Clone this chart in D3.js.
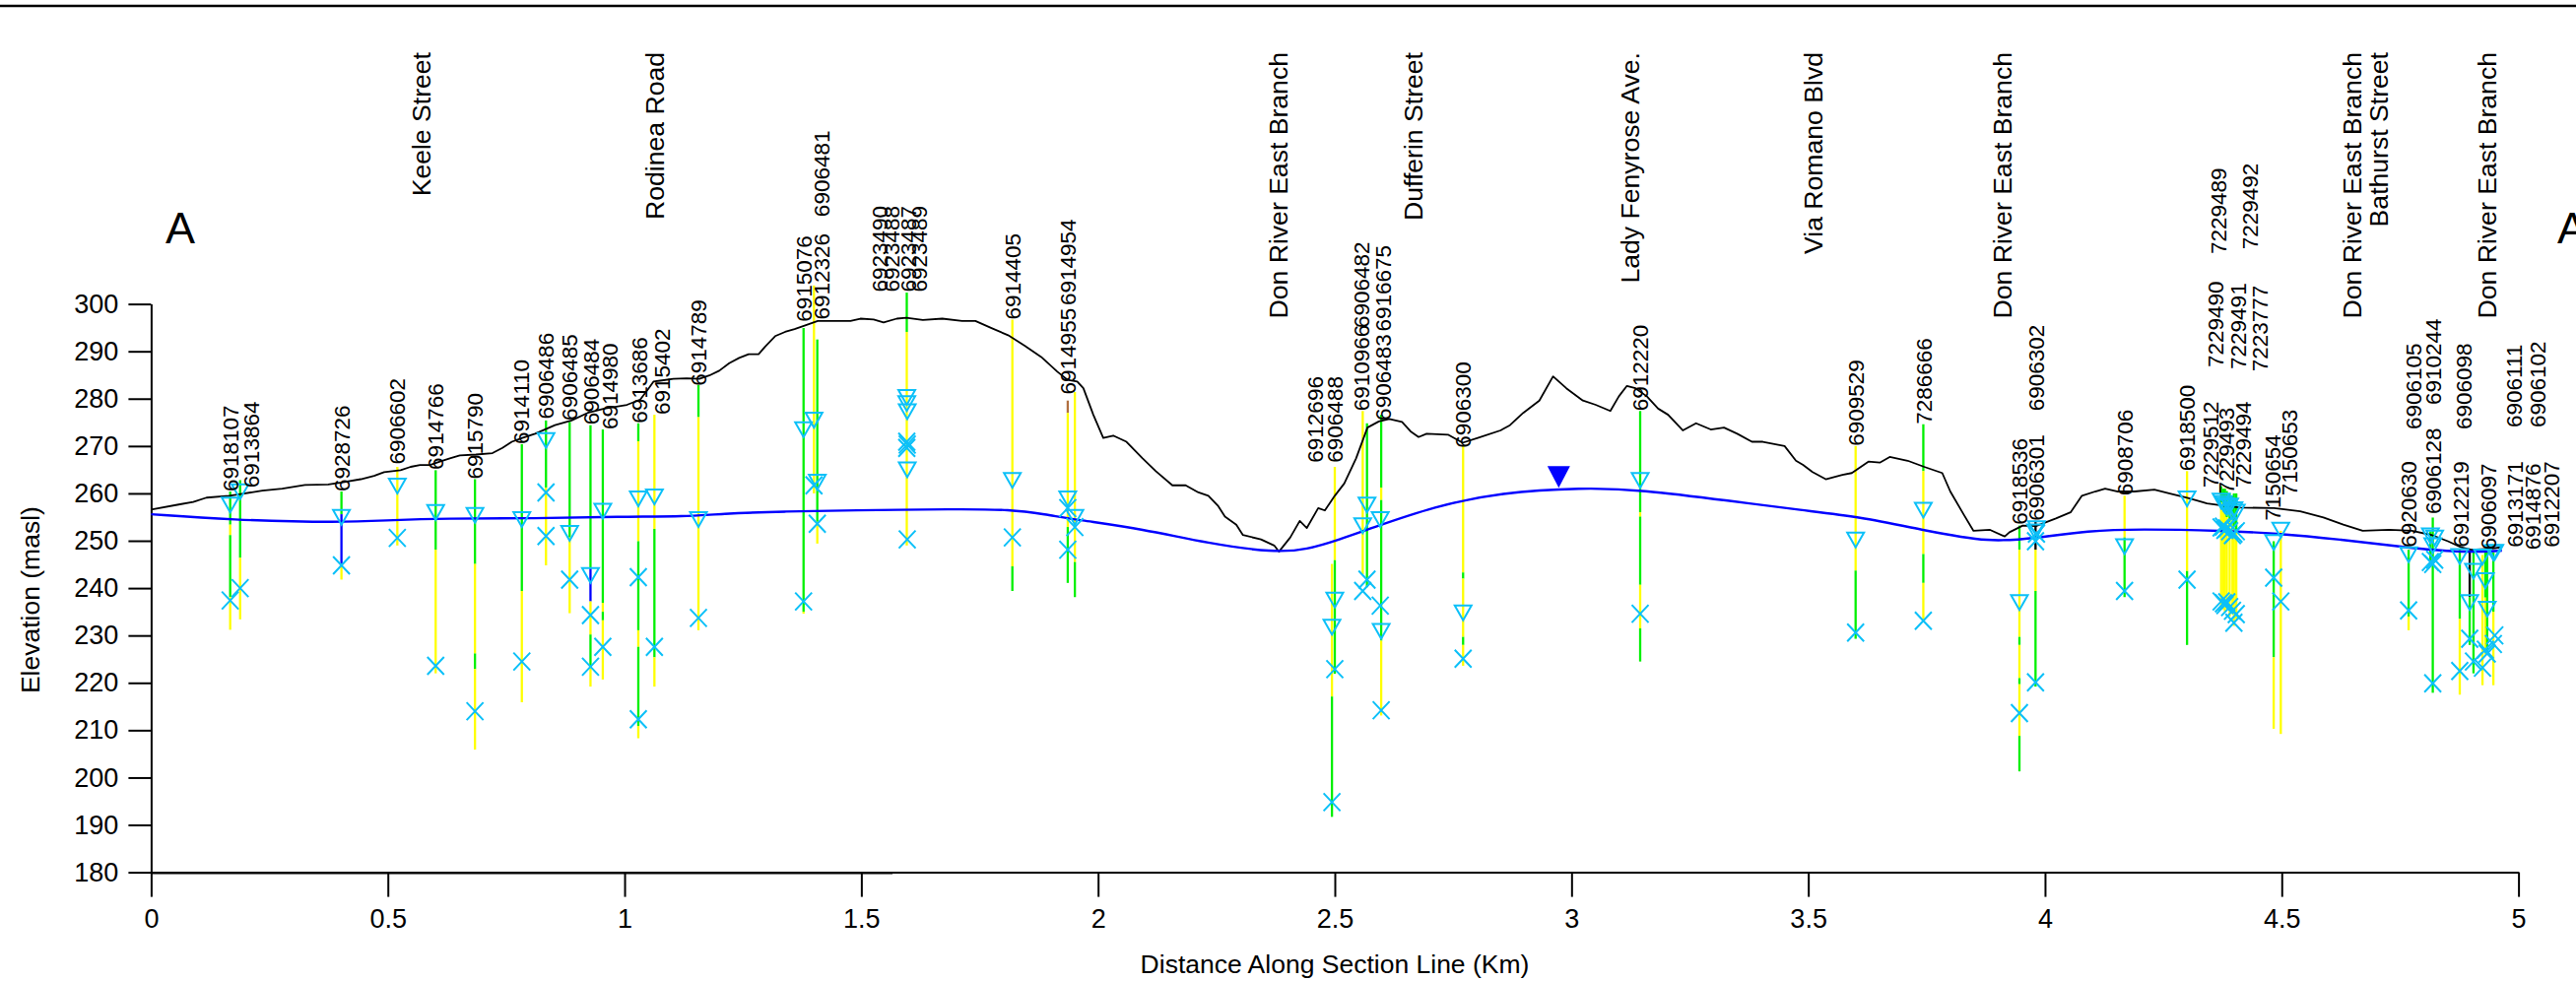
<!DOCTYPE html>
<html><head><meta charset="utf-8">
<script src="https://cdn.jsdelivr.net/npm/d3@7"></script>
<style>
body{margin:0;background:#fff}
svg{display:block}
text{font-family:"Liberation Sans",Arial,Helvetica,sans-serif;fill:#000}
</style>
</head><body>
<svg id="chart" width="2615" height="996"></svg>
<script>
// ---------------- DATA ----------------
const xTicks = [0, 0.5, 1, 1.5, 2, 2.5, 3, 3.5, 4, 4.5, 5];
const yTicks = [180, 190, 200, 210, 220, 230, 240, 250, 260, 270, 280, 290, 300];

// ground surface profile [km, masl]
const groundProfile = [
 [0,256.6],[0.061,257.7],[0.089,258.2],[0.117,259.1],[0.165,259.5],[0.186,259.8],[0.235,260.6],[0.277,261.0],
 [0.325,261.8],[0.374,261.9],[0.402,262.3],[0.443,263.0],[0.471,263.7],[0.492,264.5],[0.527,264.9],[0.548,265.6],
 [0.568,266.0],[0.589,266.0],[0.610,266.7],[0.631,267.4],[0.652,268.0],[0.686,268.2],[0.721,268.5],[0.742,269.6],
 [0.762,270.9],[0.784,271.7],[0.811,272.6],[0.853,274.4],[0.888,275.4],[0.922,277.0],[0.957,277.9],[1.005,278.7],
 [1.033,279.8],[1.051,282.2],[1.061,283.6],[1.075,283.8],[1.103,284.2],[1.131,284.3],[1.158,284.2],[1.179,284.9],
 [1.200,285.9],[1.221,287.5],[1.242,288.6],[1.262,289.4],[1.283,289.4],[1.297,291.0],[1.318,293.2],[1.339,294.1],
 [1.359,294.7],[1.380,295.4],[1.408,296.4],[1.436,296.4],[1.477,296.4],[1.498,296.9],[1.526,296.7],[1.547,296.1],
 [1.575,296.9],[1.595,297.1],[1.630,296.6],[1.671,296.9],[1.713,296.4],[1.741,296.4],[1.775,294.9],[1.810,293.4],
 [1.845,291.2],[1.880,288.8],[1.914,285.7],[1.935,284.0],[1.956,283.6],[1.969,282.2],[1.990,276.6],[2.011,271.7],
 [2.032,272.2],[2.060,270.9],[2.094,267.4],[2.122,264.7],[2.157,261.7],[2.185,261.7],[2.212,260.2],[2.233,259.5],
 [2.254,257.3],[2.268,255.1],[2.292,253.4],[2.306,251.2],[2.344,250.3],[2.372,249.0],[2.382,247.7],[2.406,250.7],
 [2.426,254.2],[2.441,252.7],[2.465,256.9],[2.479,256.4],[2.500,259.5],[2.520,262.1],[2.545,267.4],[2.569,273.9],
 [2.593,275.2],[2.615,275.7],[2.642,275.1],[2.660,273.1],[2.677,271.9],[2.694,272.6],[2.739,272.4],[2.770,270.7],
 [2.802,271.7],[2.850,273.3],[2.870,274.4],[2.898,277.0],[2.932,279.6],[2.961,284.7],[2.989,282.2],[3.024,279.6],
 [3.051,278.7],[3.082,277.4],[3.100,280.5],[3.117,282.7],[3.135,282.2],[3.159,280.5],[3.183,277.9],[3.204,276.6],
 [3.235,273.3],[3.263,274.8],[3.294,273.5],[3.322,273.9],[3.350,272.6],[3.381,270.9],[3.404,270.9],[3.450,270.0],
 [3.474,266.9],[3.489,266.0],[3.509,264.5],[3.537,263.0],[3.572,263.9],[3.592,264.3],[3.627,266.7],[3.651,266.5],
 [3.672,267.7],[3.710,266.9],[3.745,265.6],[3.783,264.3],[3.800,260.4],[3.828,255.6],[3.849,252.1],[3.884,252.3],
 [3.915,250.9],[3.925,251.8],[3.953,253.2],[3.981,253.1],[4.023,254.7],[4.054,256.0],[4.078,259.5],[4.106,260.4],
 [4.127,261.0],[4.154,260.4],[4.189,260.4],[4.231,260.8],[4.266,259.9],[4.300,259.1],[4.342,257.9],[4.384,257.3],
 [4.414,257.0],[4.484,256.9],[4.539,256.2],[4.588,254.9],[4.630,253.4],[4.671,252.1],[4.727,252.3],[4.775,252.1],
 [4.817,251.2],[4.851,249.9],[4.879,248.6],[4.900,248.1],[4.941,248.3],[4.962,248.6]
];

// interpreted water table [km, masl]
const waterTable = [
 [0,255.6],[0.165,254.4],[0.402,253.8],[0.513,254.4],[0.617,254.7],[0.804,254.7],[0.992,255.1],[1.131,255.1],
 [1.200,255.7],[1.339,256.2],[1.477,256.4],[1.699,256.7],[1.817,256.6],[1.887,255.6],[1.956,254.4],[2.094,252.5],
 [2.233,249.4],[2.372,247.5],[2.441,248.1],[2.511,250.3],[2.573,252.5],[2.712,257.3],[2.850,260.2],[3.024,261.2],
 [3.145,260.8],[3.336,258.4],[3.489,256.4],[3.606,255.1],[3.745,252.2],[3.884,249.6],[3.981,250.6],[4.092,252.1],
 [4.196,252.5],[4.384,252.1],[4.484,251.6],[4.623,250.3],[4.762,248.6],[4.873,247.5],[4.965,247.9]
];

// water-table marker [km, masl]
const wtMarker = [2.973, 261.2];

// street / feature names [name, km]
const streets = [
 ["Keele Street",0.571],["Rodinea Road",1.064],["Don River East Branch",2.381],["Dufferin Street",2.665],
 ["Lady Fenyrose Ave.",3.122],["Via Romano Blvd",3.509],["Don River East Branch",3.910],
 ["Don River East Branch",4.648],["Bathurst Street",4.705],["Don River East Branch",4.933]
];

// wells: [id, km, log breakpoints [elev, material] ... [bottom], water levels, screen marks]
// material: g = green, y = yellow, b = blue, k = black, r = brown
const wells = [
 ["6918107",0.167,[[260.4,"g"],[253.4,"y"],[251.2,"g"],[238.1,"y"],[231.2]],[256.0],[237.4]],
 ["6913864",0.188,[[262.8,"g"],[246.4,"y"],[233.4]],[258.8],[240.0]],
 ["6928726",0.402,[[260.4,"g"],[255.6,"b"],[245.1,"y"],[241.8]],[253.4],[244.8]],
 ["6906602",0.520,[[265.6,"y"],[249.0]],[260.0],[250.6]],
 ["6914766",0.601,[[264.9,"g"],[248.1,"y"],[222.0]],[254.4],[223.6]],
 ["6915790",0.684,[[263.0,"g"],[245.1,"y"],[226.2,"g"],[222.9,"y"],[205.9]],[253.8],[214.0]],
 ["6914110",0.783,[[270.4,"g"],[239.4,"y"],[215.9]],[252.9],[224.5]],
 ["6906486",0.834,[[275.4,"g"],[261.2,"y"],[244.8]],[269.6],[260.2,251.0]],
 ["6906485",0.884,[[275.1,"g"],[250.7,"y"],[234.7]],[250.0],[241.8]],
 ["6906484",0.928,[[274.4,"g"],[244.2,"b"],[237.2,"y"],[230.2,"g"],[223.2,"y"],[219.2]],[241.1],[234.3,223.4]],
 ["6914980",0.954,[[273.5,"g"],[236.9,"y"],[235.0,"g"],[233.2,"y"],[220.7]],[254.7],[227.6]],
 ["6913686",1.029,[[274.8,"g"],[271.0,"y"],[249.9,"g"],[231.1,"y"],[227.6,"g"],[210.9,"y"],[208.3]],[257.3],[242.3,212.3]],
 ["6915402",1.063,[[276.6,"y"],[252.5,"g"],[225.4,"y"],[219.2]],[257.7],[227.6]],
 ["6914789",1.156,[[282.9,"g"],[276.1,"y"],[231.1]],[252.9],[233.7]],
 ["6915076",1.378,[[294.9,"g"],[235.0,"y"],[234.6]],[271.9],[237.2]],
 ["6912326",1.400,[[303.9,"y"],[260.0]],[273.9],[261.7]],
 ["6906481",1.407,[[292.5,"g"],[254.0,"y"],[249.4]],[260.8],[253.6]],
 ["6923490",1.596,[[302.4,"g"],[294.1,"y"],[249.0]],[278.7],[270.9]],
 ["6923488",1.596,[],[277.4],[269.6]],
 ["6923487",1.597,[],[275.7],[270.3]],
 ["6923489",1.597,[],[263.4],[250.3]],
 ["6914405",1.819,[[296.7,"y"],[244.6,"g"],[239.4]],[261.2],[250.7]],
 ["6914955",1.936,[[279.6,"r"],[277.0,"y"],[252.9,"g"],[241.1]],[257.3],[256.9,248.1]],
 ["6914954",1.951,[[281.4,"y"],[245.5,"g"],[238.1]],[253.4],[252.9]],
 ["6912696",2.494,[[245.1,"y"],[217.1,"g"],[191.7]],[230.2],[194.8]],
 ["6906488",2.500,[[265.6,"y"],[245.9,"g"],[221.9]],[235.9],[222.9]],
 ["6910966",2.559,[[277.4,"y"],[242.9]],[251.6],[239.4]],
 ["6906482",2.568,[[274.8,"g"],[240.2]],[256.0],[241.8]],
 ["6906483",2.596,[],[252.9],[236.3]],
 ["6916675",2.598,[[276.6,"g"],[261.2,"y"],[258.6,"g"],[228.9,"y"],[213.1]],[229.3],[214.2]],
 ["6906300",2.771,[[270.0,"y"],[243.3,"g"],[242.0,"y"],[229.7,"g"],[228.0,"y"],[223.6]],[233.2],[225.1]],
 ["6912220",3.145,[[277.4,"g"],[256.0,"y"],[255.1,"g"],[240.7,"y"],[231.5,"g"],[224.5]],[261.2],[234.6]],
 ["6909529",3.600,[[270.0,"y"],[243.7,"g"],[229.3]],[248.6],[230.6]],
 ["7286666",3.743,[[274.6,"g"],[264.7,"y"],[247.2,"g"],[241.1,"y"],[232.8]],[254.9],[233.1]],
 ["6918536",3.946,[[253.2,"g"],[248.1,"y"],[229.7,"g"],[228.0,"y"],[221.0,"g"],[219.7,"y"],[208.8,"g"],[201.3]],[235.4],[213.6]],
 ["6906301",3.980,[[254.2,"k"],[248.1,"y"],[239.4,"g"],[219.2]],[250.3],[249.9,220.1]],
 ["6906302",3.982,[],[251.0],[251.5]],
 ["6908706",4.168,[[259.5,"y"],[250.7,"g"],[238.1]],[247.2],[239.4]],
 ["6918500",4.300,[[264.7,"y"],[243.6,"g"],[228.0]],[257.3],[241.8]],
 ["7229512",4.372,[[261.5,"g"],[258.0,"y"],[236.0]],[256.8],[252.8,237.2]],
 ["7229489",4.377,[[261.0,"g"],[257.0,"y"],[235.5]],[256.3],[253.0,236.8]],
 ["7229493",4.380,[[261.0,"g"],[256.0,"y"],[235.0]],[255.9],[252.3,236.4]],
 ["7229490",4.384,[[260.5,"g"],[255.0,"y"],[236.0]],[255.5],[252.6,237.0]],
 ["7229492",4.390,[[260.0,"g"],[254.0,"y"],[234.0]],[255.8],[252.0,236.0]],
 ["7229491",4.396,[[259.5,"g"],[254.5,"y"],[234.5]],[254.5],[251.2,235.2]],
 ["7229494",4.399,[[260.0,"g"],[253.0,"y"],[232.0]],[255.0],[251.5,232.7]],
 ["7223777",4.404,[[260.0,"g"],[252.0,"y"],[233.5]],[254.5],[252.0,234.5]],
 ["7150654",4.483,[[249.9,"g"],[225.4,"y"],[210.3]],[248.1],[242.2]],
 ["7150653",4.498,[[252.1,"y"],[209.2]],[250.7],[237.2]],
 ["6920630",4.768,[[248.1,"g"],[234.0,"y"],[231.1]],[245.5],[235.3]],
 ["6906105",4.814,[[252.0,"g"],[245.0]],[249.5],[245.5]],
 ["6906128",4.819,[[254.9,"g"],[217.9]],[247.4],[245.1,219.9]],
 ["6910244",4.823,[],[249.0],[246.0]],
 ["6912219",4.876,[[248.1,"g"],[233.5,"y"],[217.5]],[245.1],[222.5]],
 ["6906098",4.897,[[247.7,"k"],[238.1,"g"],[228.0]],[235.4],[229.3]],
 ["6906097",4.905,[[247.5,"g"],[222.0]],[242.0],[224.5]],
 ["6913171",4.924,[[247.0,"y"],[219.5]],[245.0],[223.2]],
 ["6906111",4.930,[[247.5,"g"],[238.0,"y"],[226.0]],[240.0],[227.0]],
 ["6914876",4.934,[[247.5,"g"],[226.0]],[234.0],[226.2]],
 ["6912207",4.947,[[247.5,"g"],[235.0,"y"],[219.5]],[245.9],[228.2]],
 ["6906102",4.950,[],[246.0],[230.0]]
];

// well id labels [id, km of text column, elevation where text starts]
const wellLabels = [
 ["6918107",0.168,260.4],["6913864",0.211,261.2],["6928726",0.403,260.4],["6906602",0.520,266.1],
 ["6914766",0.601,265.0],["6915790",0.683,263.0],["6914110",0.782,270.4],["6906486",0.834,275.7],
 ["6906485",0.884,275.4],["6906484",0.928,274.5],["6914980",0.969,273.5],["6913686",1.030,274.8],
 ["6915402",1.078,276.6],["6914789",1.156,282.7],["6915076",1.379,296.2],["6912326",1.416,296.7],
 ["6906481",1.416,318.4],["6923490",1.539,302.5],["6923488",1.563,302.5],["6923487",1.599,302.5],
 ["6923489",1.622,302.5],["6914405",1.820,296.7],["6914955",1.935,280.9],["6914954",1.935,299.7],
 ["6912696",2.459,266.5],["6906488",2.500,266.5],["6910966",2.556,277.4],["6906482",2.556,294.9],
 ["6906483",2.601,275.4],["6916675",2.601,294.2],["6906300",2.771,269.6],["6912220",3.145,277.4],
 ["6909529",3.600,270.0],["7286666",3.743,274.6],["6918536",3.945,253.4],["6906301",3.982,254.2],
 ["6906302",3.982,277.4],["6908706",4.168,259.5],["6918500",4.299,264.7],["7229512",4.349,261.2],
 ["7229493",4.383,259.9],["7229494",4.419,261.2],["7229490",4.359,286.6],["7229491",4.408,286.2],
 ["7223777",4.453,285.7],["7229489",4.365,310.5],["7229492",4.432,311.5],["7150654",4.480,254.2],
 ["7150653",4.515,259.5],["6920630",4.767,248.6],["6906105",4.779,273.5],["6906128",4.820,255.6],
 ["6910244",4.820,278.7],["6912219",4.878,248.6],["6906098",4.885,273.5],["6906097",4.936,248.1],
 ["6913171",4.992,248.6],["6906111",4.990,273.9],["6914876",5.030,248.1],["6912207",5.070,248.6],
 ["6906102",5.040,273.9]
];

// ---------------- DRAWING ----------------
const W = 2615, H = 996;
const svg = d3.select("#chart");
const x = d3.scaleLinear().domain([0, 5]).range([153.4, 2556.6]);
const y = d3.scaleLinear().domain([180, 300]).range([885.6, 308.6]);
const matColor = {g:"#00f000", y:"#ffff00", b:"#0000ff", k:"#000000", r:"#b07040"};
const markColor = "#0cc0f8";

// top rule
svg.append("line").attr("x1",0).attr("x2",W).attr("y1",6).attr("y2",6)
  .attr("stroke","#000").attr("stroke-width",2.5);

// axes
const yAxis = d3.axisLeft(y).tickValues(yTicks).tickSize(23).tickPadding(10).tickSizeOuter(0).tickFormat(d3.format("d"));
const gy = svg.append("g").attr("transform",`translate(${x(0)},0)`).call(yAxis);
const xAxis = d3.axisBottom(x).tickValues(xTicks).tickSize(25).tickPadding(12).tickSizeOuter(0).tickFormat(d => String(d));
const gx = svg.append("g").attr("transform",`translate(0,${y(180)})`).call(xAxis);
[gx, gy].forEach(g => {
  g.select(".domain").attr("stroke","#000").attr("stroke-width",2);
  g.selectAll(".tick line").attr("stroke","#000").attr("stroke-width",2);
  g.selectAll(".tick text").attr("font-size",27).attr("font-family","'Liberation Sans',Arial,sans-serif").attr("fill","#000");
});
// heavier stretch of the base line at the start of the section
svg.append("line").attr("x1",x(0)).attr("x2",x(1.566)).attr("y1",y(180)+1.2).attr("y2",y(180)+1.2)
  .attr("stroke","#000").attr("stroke-width",1.4);

// axis titles
svg.append("text").attr("x",(x(0)+x(5))/2).attr("y",988).attr("text-anchor","middle")
  .attr("font-size",26.5).text("Distance Along Section Line (Km)");
svg.append("text").attr("transform",`translate(40,${(y(180)+y(300))/2 + 12}) rotate(-90)`)
  .attr("text-anchor","middle").attr("font-size",26.5).text("Elevation (masl)");

// section end letters
svg.append("text").attr("x",168).attr("y",247).attr("font-size",45).text("A");
svg.append("text").attr("x",2596).attr("y",247).attr("font-size",45).text("A");

// street names
svg.append("g").selectAll("text").data(streets).join("text")
  .attr("transform", d => `translate(${x(d[1])},53) rotate(-90)`)
  .attr("text-anchor","end").attr("dy","0.36em").attr("font-size",26.6)
  .text(d => d[0]);

// well log lines
const segs = [];
wells.forEach(w => {
  const b = w[2];
  for (let i = 0; i < b.length - 1; i++) segs.push({km:w[1], top:b[i][0], bot:b[i+1][0], m:b[i][1]});
});
svg.append("g").selectAll("line").data(segs).join("line")
  .attr("x1", d => x(d.km)).attr("x2", d => x(d.km))
  .attr("y1", d => y(d.top)).attr("y2", d => y(d.bot))
  .attr("stroke", d => matColor[d.m]).attr("stroke-width", 2.3);

// ground surface
svg.append("path").datum(groundProfile)
  .attr("d", d3.line().x(d => x(d[0])).y(d => y(d[1])))
  .attr("fill","none").attr("stroke","#000").attr("stroke-width",1.8).attr("stroke-linejoin","round");

// water table
svg.append("path").datum(waterTable)
  .attr("d", d3.line().x(d => x(d[0])).y(d => y(d[1])).curve(d3.curveBasis))
  .attr("fill","none").attr("stroke","#0000ff").attr("stroke-width",2.4);

// water-level triangles (apex at level)
const tris = [];
wells.forEach(w => w[3].forEach(v => tris.push({km:w[1], v})));
svg.append("g").selectAll("path").data(tris).join("path")
  .attr("d", d => { const cx = x(d.km), cy = y(d.v); return `M${cx-8.5},${cy-15}L${cx+8.5},${cy-15}L${cx},${cy}Z`; })
  .attr("fill","none").attr("stroke",markColor).attr("stroke-width",2);

// screen marks (X)
const crosses = [];
wells.forEach(w => w[4].forEach(v => crosses.push({km:w[1], v})));
svg.append("g").selectAll("path").data(crosses).join("path")
  .attr("d", d => { const cx = x(d.km), cy = y(d.v); return `M${cx-8.5},${cy-9}L${cx+8.5},${cy+9}M${cx+8.5},${cy-9}L${cx-8.5},${cy+9}`; })
  .attr("fill","none").attr("stroke",markColor).attr("stroke-width",2);

// interpreted water table marker
svg.append("path")
  .attr("d", () => { const cx = x(wtMarker[0]), cy = y(wtMarker[1]); return `M${cx-11.5},${cy-22}L${cx+11.5},${cy-22}L${cx},${cy}Z`; })
  .attr("fill","#0000ff");

// well labels
svg.append("g").selectAll("text").data(wellLabels).join("text")
  .attr("transform", d => `translate(${x(d[1])},${y(d[2])}) rotate(-90)`)
  .attr("text-anchor","start").attr("dy","0.36em").attr("font-size",22.5)
  .text(d => d[0]);
</script>
</body></html>
